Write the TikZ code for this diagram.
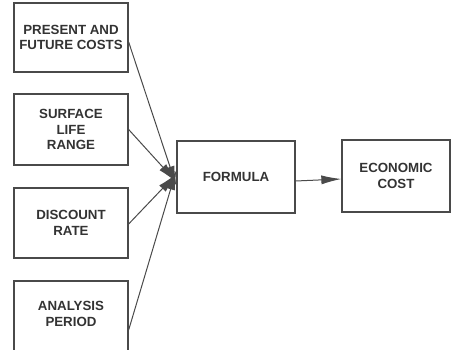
\documentclass[tikz,border=0pt]{standalone}
\usepackage{fontspec}
\setmainfont{Liberation Sans}
\usetikzlibrary{arrows.meta}
\definecolor{ink}{HTML}{333333}
\definecolor{edge}{HTML}{4A4A4A}
\begin{document}
\begin{tikzpicture}[x=1pt,y=-1pt,
  box/.style={draw=edge, line width=1.3pt, minimum width=114pt, inner sep=0pt},
  lbl/.style={text=ink, font=\bfseries\fontsize{13.3}{15.5}\selectfont, align=center},
  flow/.style={draw=edge, line width=1pt, -{Latex[length=20pt,width=9pt]}}]
\useasboundingbox (0,0) rectangle (453,350);
\begin{scope}
\clip (0,0) rectangle (453,350);
% input boxes
\node[box, minimum height=69pt, lbl] (costs) at (71,37.5) {PRESENT AND\\FUTURE COSTS};
\node[box, minimum height=71pt, lbl] (life) at (71,129.5) {SURFACE\\LIFE\\RANGE};
\node[box, minimum height=70pt, lbl] (rate) at (71,223) {DISCOUNT\\RATE};
\node[box, minimum height=80pt] (period) at (71,321) {};
\node[lbl] (periodtxt) at (71,314) {ANALYSIS\\PERIOD};
\end{scope}
% formula and result
\node[box, minimum width=118pt, minimum height=72pt, lbl] (formula) at (236,177) {FORMULA};
\node[box, minimum width=108pt, minimum height=72pt, lbl] (econ) at (396,176) {ECONOMIC\\COST};
% connectors
\draw[flow] ([yshift=-4.5pt]costs.east) -- ([yshift=-9pt]formula.west);
\draw[flow] (life.east) -- ([yshift=-5pt]formula.west);
\draw[flow] ([yshift=-1pt]rate.east) -- ([yshift=3pt]formula.west);
\draw[flow] ([yshift=-9pt]period.east) -- ([yshift=7pt]formula.west);
\draw[flow] ([yshift=-4pt]formula.east) -- ([yshift=-3pt]econ.west);
\end{tikzpicture}
\end{document}
